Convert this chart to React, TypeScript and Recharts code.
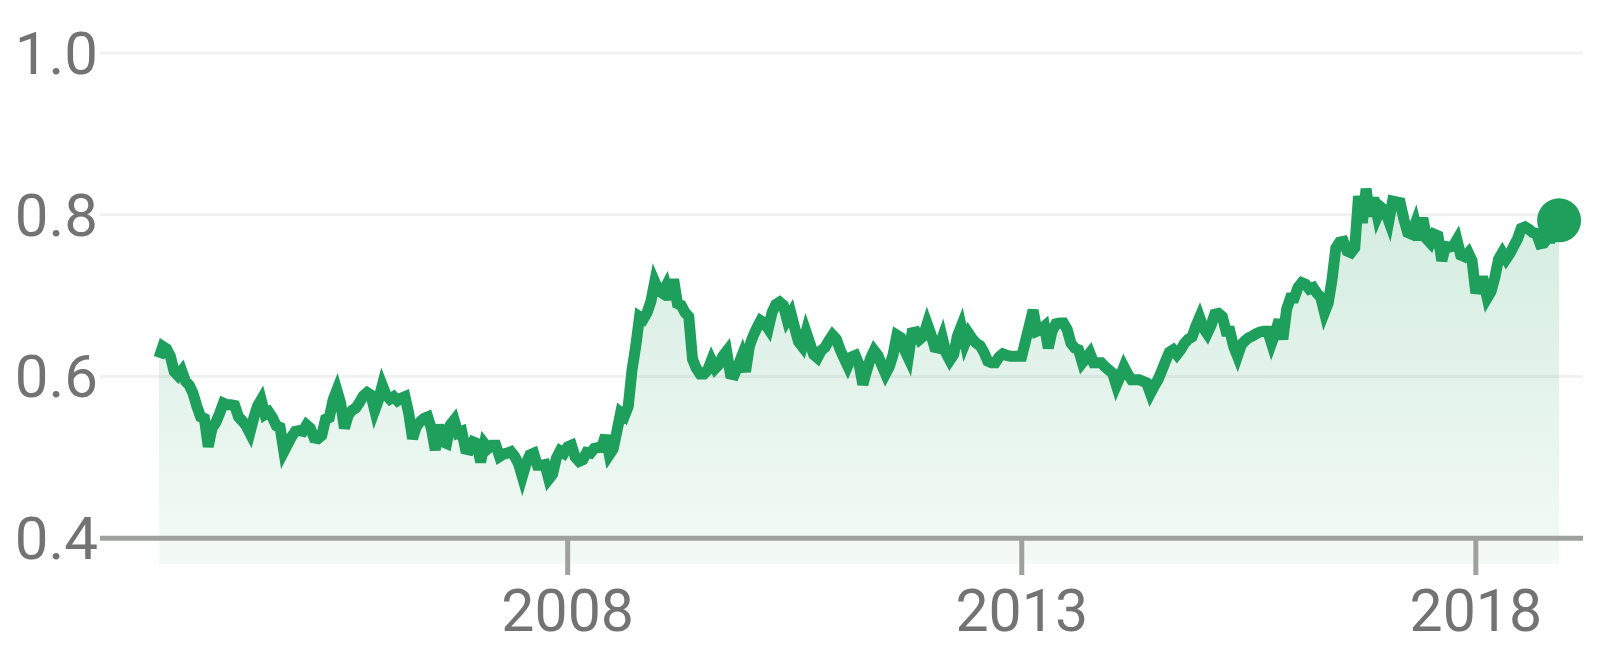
import {
  ComposedChart,
  Area,
  XAxis,
  YAxis,
  CartesianGrid,
  ReferenceLine,
  ReferenceDot,
} from "recharts";

// half-monthly readings, starting July 2003
const startYear = 2003.5;
const stepsPerYear = 24;

const ratio = [
  0.623, 0.637, 0.634, 0.625, 0.606, 0.601, 0.607, 0.594, 0.589, 0.579,
  0.563, 0.55, 0.548, 0.513, 0.536, 0.543, 0.554, 0.567, 0.565, 0.565,
  0.564, 0.55, 0.545, 0.539, 0.53, 0.548, 0.563, 0.571, 0.553, 0.556,
  0.549, 0.539, 0.537, 0.507, 0.516, 0.525, 0.532, 0.533, 0.532, 0.54,
  0.536, 0.524, 0.523, 0.527, 0.547, 0.549, 0.571, 0.583, 0.567, 0.536,
  0.552, 0.558, 0.561, 0.568, 0.576, 0.58, 0.577, 0.558, 0.571, 0.589,
  0.577, 0.572, 0.575, 0.57, 0.573, 0.575, 0.554, 0.523, 0.538, 0.544,
  0.548, 0.55, 0.535, 0.509, 0.54, 0.519, 0.517, 0.54, 0.546, 0.53,
  0.532, 0.51, 0.509, 0.519, 0.517, 0.494, 0.517, 0.511, 0.515, 0.515,
  0.501, 0.504, 0.505, 0.507, 0.501, 0.492, 0.476, 0.492, 0.503, 0.505,
  0.49, 0.49, 0.491, 0.473, 0.479, 0.499, 0.508, 0.505, 0.513, 0.515,
  0.5, 0.495, 0.497, 0.506, 0.505, 0.511, 0.512, 0.512, 0.527, 0.503,
  0.51, 0.532, 0.555, 0.551, 0.563, 0.608, 0.638, 0.674, 0.671, 0.679,
  0.693, 0.717, 0.706, 0.703, 0.712, 0.695, 0.72, 0.69, 0.688, 0.679,
  0.674, 0.621, 0.61, 0.603, 0.603, 0.608, 0.62, 0.61, 0.615, 0.625,
  0.631, 0.603, 0.602, 0.613, 0.625, 0.606, 0.637, 0.65, 0.66, 0.669,
  0.666, 0.659, 0.679, 0.689, 0.692, 0.688, 0.67, 0.678, 0.66, 0.643,
  0.637, 0.655, 0.641, 0.627, 0.623, 0.632, 0.636, 0.644, 0.651, 0.646,
  0.633, 0.623, 0.613, 0.624, 0.626, 0.615, 0.59, 0.607, 0.622, 0.632,
  0.626, 0.614, 0.603, 0.612, 0.627, 0.651, 0.648, 0.633, 0.623, 0.654,
  0.655, 0.646, 0.65, 0.665, 0.652, 0.636, 0.635, 0.648, 0.629, 0.62,
  0.627, 0.65, 0.662, 0.641, 0.653, 0.646, 0.641, 0.638, 0.63, 0.619,
  0.617, 0.617, 0.624, 0.628, 0.626, 0.625, 0.625, 0.625, 0.625, 0.644,
  0.663, 0.682, 0.656, 0.658, 0.662, 0.635, 0.656, 0.665, 0.666, 0.666,
  0.658, 0.641, 0.635, 0.633, 0.617, 0.623, 0.629, 0.617, 0.617, 0.617,
  0.612, 0.608, 0.604, 0.589, 0.6, 0.612, 0.603, 0.596, 0.596, 0.596,
  0.594, 0.592, 0.579, 0.588, 0.596, 0.607, 0.619, 0.63, 0.633, 0.627,
  0.633, 0.641, 0.646, 0.649, 0.662, 0.673, 0.66, 0.653, 0.663, 0.677,
  0.678, 0.674, 0.656, 0.656, 0.637, 0.625, 0.639, 0.644, 0.648, 0.65,
  0.653, 0.655, 0.656, 0.656, 0.641, 0.654, 0.67, 0.646, 0.683, 0.697,
  0.697, 0.71, 0.716, 0.714, 0.708, 0.71, 0.703, 0.698, 0.679, 0.691,
  0.72, 0.759, 0.766, 0.767, 0.755, 0.753, 0.759, 0.823, 0.79, 0.832,
  0.798, 0.821, 0.798, 0.809, 0.805, 0.792, 0.817, 0.816, 0.815, 0.794,
  0.778, 0.776, 0.789, 0.769, 0.796, 0.77, 0.765, 0.776, 0.774, 0.743,
  0.761, 0.76, 0.761, 0.769, 0.75, 0.748, 0.753, 0.743, 0.703, 0.718,
  0.718, 0.697, 0.705, 0.722, 0.745, 0.753, 0.745, 0.752, 0.761, 0.77,
  0.783, 0.785, 0.782, 0.778, 0.777, 0.764, 0.765, 0.771, 0.771, 0.78,
  0.793,
];

const xTicks = [2008, 2013, 2018];
const yTicks = [0.4, 0.6, 0.8, 1.0];
const gridValues = [0.6, 0.8, 1.0];

const data = ratio.map((v, i) => ({ t: startYear + i / stepsPerYear, v }));
const last = data[data.length - 1];

const GREEN = "#1e9f5c";
const TEXT = "#737373";
const AXIS = "#9fa19f";
const FONT = "Roboto, sans-serif";

function YTick(props: any) {
  const { x, y, payload } = props;
  return (
    <text
      x={x - 2}
      y={y + 21}
      textAnchor="end"
      fill={TEXT}
      fontFamily={FONT}
      fontSize={60}
    >
      {payload.value.toFixed(1)}
    </text>
  );
}

function XTick(props: any) {
  const { x, y, payload } = props;
  return (
    <g>
      <line x1={x} x2={x} y1={y - 26} y2={y + 11} stroke={AXIS} strokeWidth={5} />
      <text
        x={x}
        y={y + 67}
        textAnchor="middle"
        fill={TEXT}
        fontFamily={FONT}
        fontSize={59}
      >
        {payload.value}
      </text>
    </g>
  );
}

export default function App() {
  return (
    <div style={{ position: "absolute", left: 0, top: 0, width: 1600, height: 663, background: "#fff" }}>
      <ComposedChart
        width={1600}
        height={663}
        data={data}
        margin={{ top: 53, right: 17, bottom: 0, left: 0 }}
      >
        <defs>
          <linearGradient id="fillGreen" x1="0" y1="0" x2="0" y2="1">
            <stop offset="0%" stopColor={GREEN} stopOpacity={0.2} />
            <stop offset="100%" stopColor={GREEN} stopOpacity={0.05} />
          </linearGradient>
        </defs>
        <CartesianGrid
          vertical={false}
          horizontalValues={gridValues}
          stroke="#f1f1f1"
          strokeWidth={3}
        />
        <XAxis
          dataKey="t"
          type="number"
          domain={[2002.85, 2019.18]}
          ticks={xTicks}
          height={99}
          axisLine={false}
          tickLine={false}
          tickSize={0}
          tickMargin={0}
          tick={<XTick />}
          allowDataOverflow
        />
        <YAxis
          type="number"
          domain={[0.368, 1.0]}
          ticks={yTicks}
          width={100}
          axisLine={false}
          tickLine={false}
          tickSize={0}
          tickMargin={0}
          tick={<YTick />}
          allowDataOverflow
        />
        <ReferenceLine y={0.4} stroke={AXIS} strokeWidth={5} />
        <Area
          type="linear"
          dataKey="v"
          stroke={GREEN}
          strokeWidth={11}
          fill="url(#fillGreen)"
          fillOpacity={1}
          dot={false}
          activeDot={false}
          isAnimationActive={false}
        />
        <ReferenceDot x={last.t} y={last.v} r={22} fill={GREEN} stroke="none" />
      </ComposedChart>
    </div>
  );
}
